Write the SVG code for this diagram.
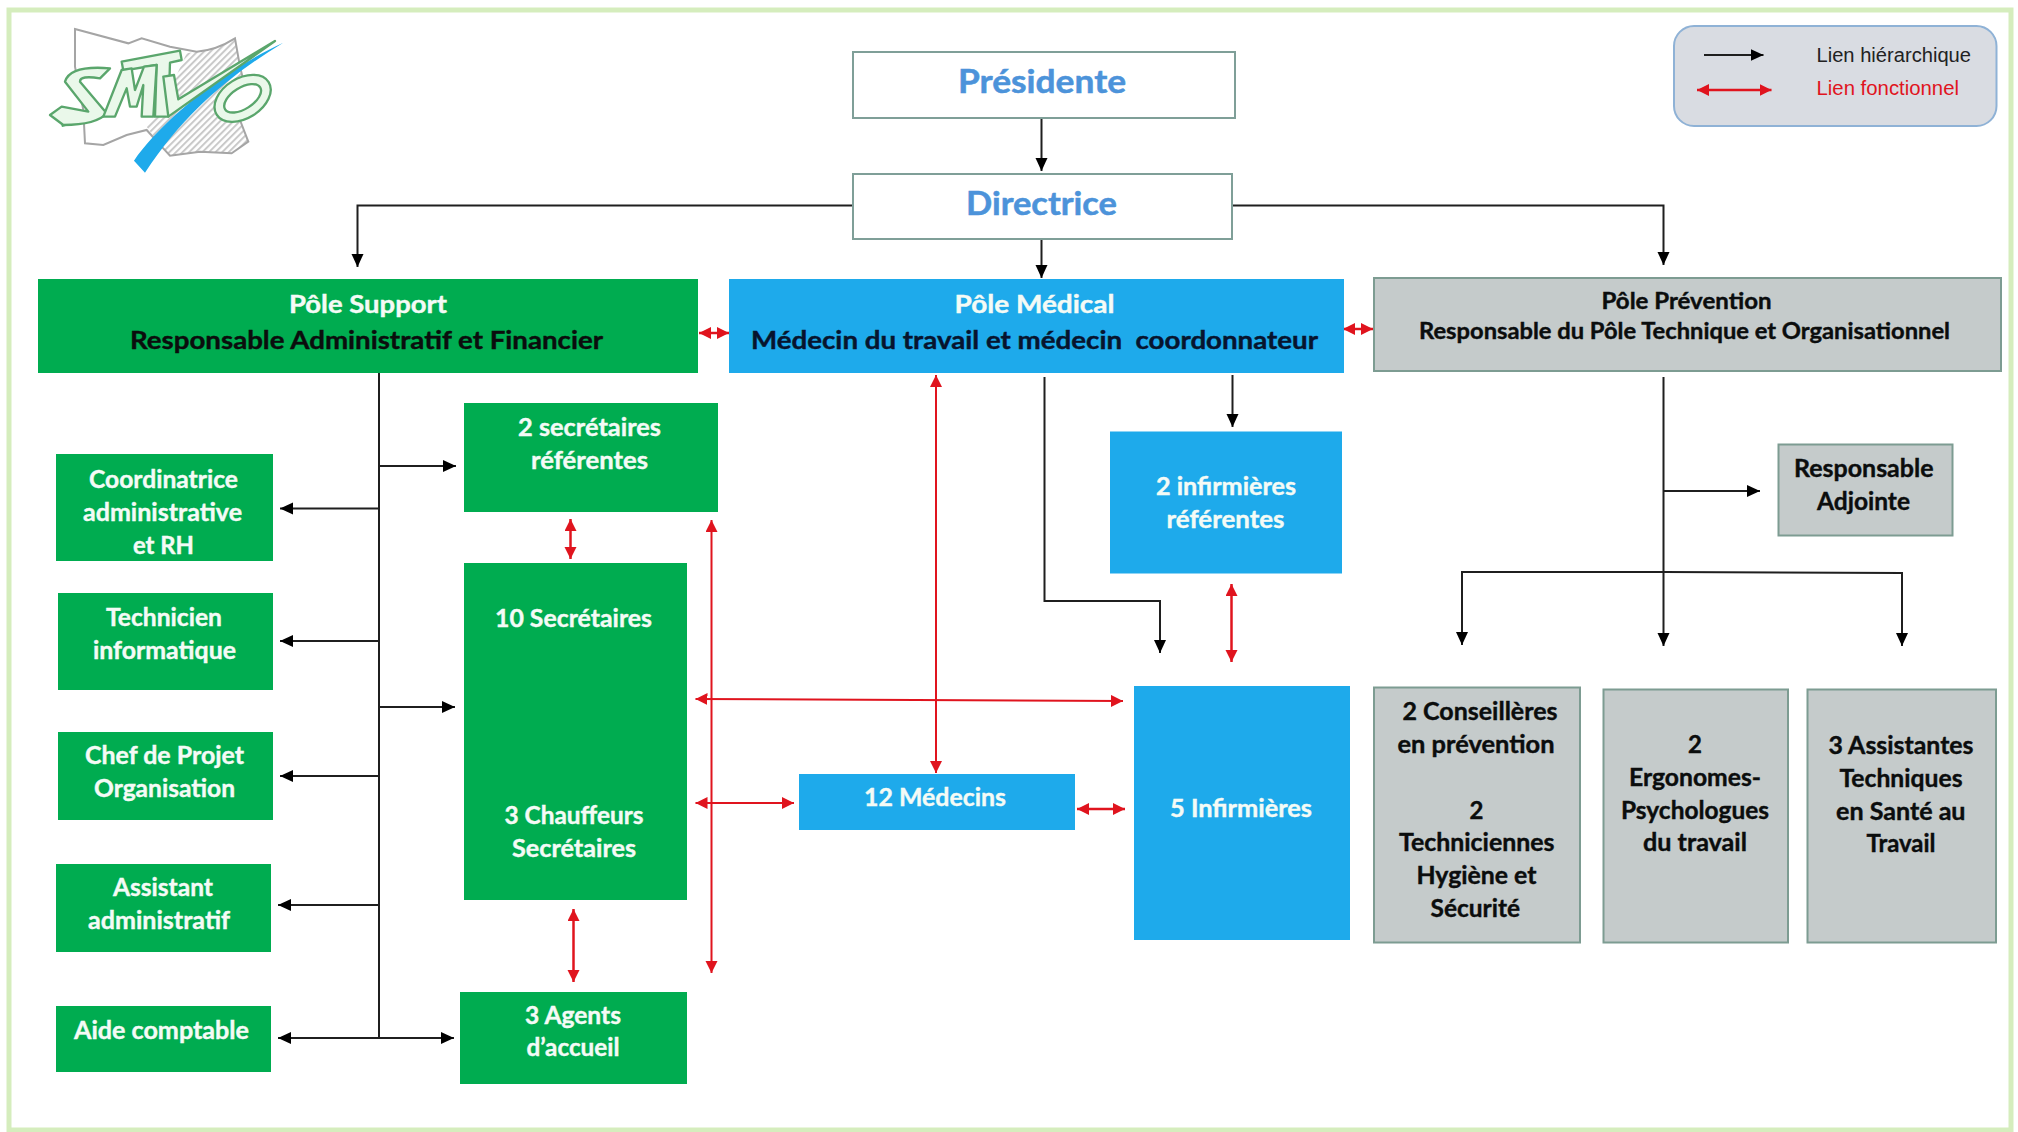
<svg xmlns="http://www.w3.org/2000/svg" width="2018" height="1132" viewBox="0 0 2018 1132">
<style>
text{font-family:"Lato","Carlito","Liberation Sans",sans-serif;font-weight:700}
.w{fill:#f4fbf6;stroke:#f4fbf6;stroke-width:.4;font-size:24px}
.k{fill:#0b0d0d;stroke:#0b0d0d;stroke-width:.4;font-size:24px}
.t{font-size:32px;fill:#4c93da;stroke:#4c93da;stroke-width:.5}
.gn{fill:#00ac50}.bl{fill:#1eaaeb}
.gy{fill:#c5cbcb;stroke:#7d9c92;stroke-width:2}
.wb{fill:#fff;stroke:#7f9f98;stroke-width:2}
.h{fill:none;stroke:#1f1f1f;stroke-width:2;marker-end:url(#ak)}
.l{fill:none;stroke:#1f1f1f;stroke-width:2}
.r{fill:none;stroke:#e0141e;stroke-width:2;marker-start:url(#ar);marker-end:url(#ar)}
.lg{font-family:"Liberation Sans",Arial,sans-serif;font-weight:400;font-size:20px}
.lt{fill:#eaf8ea;stroke:#5aa66c;stroke-width:7;stroke-linejoin:round}
</style>
<defs>
<marker id="ak" markerUnits="userSpaceOnUse" markerWidth="14" markerHeight="14" refX="13" refY="6.5" orient="auto"><path d="M0,0.5L13,6.5L0,12.5z" fill="#000"/></marker>
<marker id="ar" markerUnits="userSpaceOnUse" markerWidth="13" markerHeight="13" refX="12" refY="6" orient="auto-start-reverse"><path d="M0,0L12,6L0,12z" fill="#e0141e"/></marker>
<pattern id="hatch" patternUnits="userSpaceOnUse" width="14" height="14" patternTransform="rotate(45)"><rect width="14" height="14" fill="#fff"/><rect width="6" height="14" fill="#c9c9c9"/></pattern>
</defs>
<rect width="2018" height="1132" fill="#fff"/>
<rect x="9" y="10" width="2002" height="1120" fill="#fff" stroke="#d5edbd" stroke-width="5"/>

<g id="logo" transform="translate(0,10) scale(.3333)">
<path d="M560,130L590,125Q650,120 705,85L720,170L735,230L715,290L720,330L745,395L695,430L600,425L510,437L485,410L440,350L500,260z" fill="url(#hatch)"/>
<path d="M225,57L385,100L425,85L510,110L590,125Q650,120 705,85L720,170L735,230L715,290L720,330L745,395L695,430L600,425L510,437L485,410L440,360L380,375L310,405L255,400L250,300L225,170z" fill="none" stroke="#a5a5a5" stroke-width="6"/>
<path d="M402,452C470,350 650,190 850,98C700,190 560,300 435,488z" fill="#1eaaeb"/>
<ellipse cx="728" cy="265" rx="92" ry="60" transform="rotate(-32 728 265)" class="lt"/>
<ellipse cx="728" cy="265" rx="62" ry="32" transform="rotate(-32 728 265)" fill="#fff" stroke="#5aa66c" stroke-width="7"/>
<path d="M185,348L245,332" stroke="#45a860" stroke-width="7" fill="none"/>
<path class="lt" d="M150,315L185,290L265,305L195,215Q210,165 330,175L300,205Q240,195 240,215L320,310Q290,345 190,345z"/>
<path class="lt" d="M365,155L540,122L545,150L510,158L505,320L465,320L470,165L370,182z"/>
<path class="lt" d="M310,320L345,320L380,235L390,290L410,290L430,225L425,320L460,320L470,165L432,170L405,240L395,175L365,180z"/>
<path class="lt" d="M522,195L490,200L505,320L825,93L535,268z"/>
</g>

<g id="connectors">
<path class="h" d="M1041.500,118V171"/>
<path class="h" d="M1041.500,239V278"/>
<path class="h" d="M853,205.500H357.500V267"/>
<path class="h" d="M1232,205.500H1663.500V265"/>
<path class="l" d="M379,373V1038"/>
<path class="h" d="M379,466H456"/>
<path class="h" d="M379,508.500H280"/>
<path class="h" d="M379,641H280"/>
<path class="h" d="M379,707H455"/>
<path class="h" d="M379,776H280"/>
<path class="h" d="M379,905H278"/>
<path class="h" d="M379,1038H278"/>
<path class="h" d="M379,1038H454"/>
<path class="h" d="M1232.500,375V427"/>
<path class="h" d="M1044.500,377V601H1160V653"/>
<path class="h" d="M1663.500,377V646"/>
<path class="h" d="M1663.500,491H1760"/>
<path class="h" d="M1663.500,572H1462V645"/>
<path class="h" d="M1663.500,572L1902,573V646"/>
<path class="r" d="M699,333H729" style="stroke-width:2.500"/>
<path class="r" d="M1343,329H1373" style="stroke-width:2.500"/>
<path class="r" d="M570.500,519V559" style="stroke-width:2.500"/>
<path class="r" d="M573.500,909V982" style="stroke-width:2.500"/>
<path class="r" d="M711.500,520V973"/>
<path class="r" d="M936,375V773"/>
<path class="r" d="M695.500,699L1123,701"/>
<path class="r" d="M695.500,803H794"/>
<path class="r" d="M1077,809H1125" style="stroke-width:2.500"/>
<path class="r" d="M1231.500,584V662" style="stroke-width:2.500"/>
</g>

<g id="legend">
<rect x="1674" y="26" width="322.500" height="100" rx="20" fill="#d9dce2" stroke="#8fb2d6" stroke-width="2"/>
<path class="h" d="M1704,55H1763.500"/>
<path class="r" d="M1697,90H1771.500" style="stroke-width:2.500"/>
<text class="lg" x="1816.500" y="62" textLength="154.500" lengthAdjust="spacingAndGlyphs" fill="#222">Lien hiérarchique</text>
<text class="lg" x="1816.500" y="95" textLength="142.500" lengthAdjust="spacingAndGlyphs" fill="#e0141e">Lien fonctionnel</text>
</g>

<g id="presidente"><rect class="wb" x="853" y="52" width="382" height="66"/><text class="t" x="958" y="93" textLength="168" lengthAdjust="spacingAndGlyphs">Présidente</text></g>
<g id="directrice"><rect class="wb" x="853" y="174" width="379" height="65"/><text class="t" x="966" y="215" textLength="151" lengthAdjust="spacingAndGlyphs">Directrice</text></g>

<g id="pole-support"><rect class="gn" x="38" y="279" width="660" height="94"/>
<text class="w" x="289" y="313" textLength="158" lengthAdjust="spacingAndGlyphs">Pôle Support</text>
<text class="k" x="130" y="349" textLength="473" lengthAdjust="spacingAndGlyphs">Responsable Administratif et Financier</text></g>
<g id="pole-medical"><rect class="bl" x="729" y="279" width="615" height="94"/>
<text class="w" x="954.500" y="313" textLength="160" lengthAdjust="spacingAndGlyphs">Pôle Médical</text>
<text class="k" x="751" y="349" textLength="567" lengthAdjust="spacingAndGlyphs" style="fill:#07142e;stroke:#07142e;white-space:pre" xml:space="preserve">Médecin du travail et médecin  coordonnateur</text></g>
<g id="pole-prevention"><rect class="gy" x="1374" y="278" width="627" height="93"/>
<text class="k" x="1601.500" y="309" textLength="170" lengthAdjust="spacingAndGlyphs" style="font-size:22px">Pôle Prévention</text>
<text class="k" x="1419" y="339" textLength="531" lengthAdjust="spacingAndGlyphs" style="font-size:22px">Responsable du Pôle Technique et Organisationnel</text></g>

<g id="coordinatrice"><rect class="gn" x="56" y="454" width="217" height="107"/>
<text class="w" x="89" y="488" textLength="149" lengthAdjust="spacingAndGlyphs">Coordinatrice</text>
<text class="w" x="83" y="521" textLength="159" lengthAdjust="spacingAndGlyphs">administrative</text>
<text class="w" x="133" y="554" textLength="61" lengthAdjust="spacingAndGlyphs">et RH</text></g>
<g id="technicien"><rect class="gn" x="58" y="593" width="215" height="97"/>
<text class="w" x="106" y="626" textLength="116" lengthAdjust="spacingAndGlyphs">Technicien</text>
<text class="w" x="93" y="659" textLength="143" lengthAdjust="spacingAndGlyphs">informatique</text></g>
<g id="chef-projet"><rect class="gn" x="58" y="732" width="215" height="88"/>
<text class="w" x="85" y="764" textLength="159" lengthAdjust="spacingAndGlyphs">Chef de Projet</text>
<text class="w" x="94" y="797" textLength="141" lengthAdjust="spacingAndGlyphs">Organisation</text></g>
<g id="assistant"><rect class="gn" x="56" y="864" width="215" height="88"/>
<text class="w" x="113" y="896" textLength="100" lengthAdjust="spacingAndGlyphs">Assistant</text>
<text class="w" x="88" y="929" textLength="142" lengthAdjust="spacingAndGlyphs">administratif</text></g>
<g id="aide-comptable"><rect class="gn" x="56" y="1006" width="215" height="66"/>
<text class="w" x="74" y="1039" textLength="175" lengthAdjust="spacingAndGlyphs">Aide comptable</text></g>

<g id="secretaires-referentes"><rect class="gn" x="464" y="403" width="254" height="109"/>
<text class="w" x="518" y="436" textLength="143" lengthAdjust="spacingAndGlyphs">2 secrétaires</text>
<text class="w" x="531" y="469" textLength="117" lengthAdjust="spacingAndGlyphs">référentes</text></g>
<g id="secretaires"><rect class="gn" x="464" y="563" width="223" height="337"/>
<text class="w" x="495" y="627" textLength="157" lengthAdjust="spacingAndGlyphs">10 Secrétaires</text>
<text class="w" x="504.500" y="824" textLength="139" lengthAdjust="spacingAndGlyphs">3 Chauffeurs</text>
<text class="w" x="512" y="857" textLength="124" lengthAdjust="spacingAndGlyphs">Secrétaires</text></g>
<g id="agents"><rect class="gn" x="460" y="992" width="227" height="92"/>
<text class="w" x="525" y="1024" textLength="96" lengthAdjust="spacingAndGlyphs">3 Agents</text>
<text class="w" x="526.500" y="1056" textLength="93" lengthAdjust="spacingAndGlyphs">d’accueil</text></g>

<g id="medecins"><rect class="bl" x="799" y="774" width="276" height="56"/>
<text class="w" x="864" y="806" textLength="142" lengthAdjust="spacingAndGlyphs">12 Médecins</text></g>
<g id="infirmieres-referentes"><rect class="bl" x="1110" y="431.500" width="232" height="142"/>
<text class="w" x="1156" y="495" textLength="140" lengthAdjust="spacingAndGlyphs">2 infirmières</text>
<text class="w" x="1166.500" y="528" textLength="118" lengthAdjust="spacingAndGlyphs">référentes</text></g>
<g id="infirmieres"><rect class="bl" x="1134" y="686" width="216" height="254"/>
<text class="w" x="1170" y="817" textLength="142" lengthAdjust="spacingAndGlyphs">5 Infirmières</text></g>

<g id="responsable-adjointe"><rect class="gy" x="1778.500" y="444.500" width="174" height="91"/>
<text class="k" x="1794" y="477" textLength="139.500" lengthAdjust="spacingAndGlyphs">Responsable</text>
<text class="k" x="1817" y="510" textLength="93" lengthAdjust="spacingAndGlyphs">Adjointe</text></g>
<g id="conseilleres"><rect class="gy" x="1374" y="687.500" width="206" height="255"/>
<text class="k" x="1402.500" y="720" textLength="155" lengthAdjust="spacingAndGlyphs">2 Conseillères</text>
<text class="k" x="1397.500" y="753" textLength="157" lengthAdjust="spacingAndGlyphs">en prévention</text>
<text class="k" x="1469.500" y="819">2</text>
<text class="k" x="1399" y="851" textLength="155.500" lengthAdjust="spacingAndGlyphs">Techniciennes</text>
<text class="k" x="1416.500" y="884" textLength="120" lengthAdjust="spacingAndGlyphs">Hygiène et</text>
<text class="k" x="1430.500" y="917" textLength="89.500" lengthAdjust="spacingAndGlyphs">Sécurité</text></g>
<g id="ergonomes"><rect class="gy" x="1603.500" y="689.500" width="184.500" height="253"/>
<text class="k" x="1688" y="753">2</text>
<text class="k" x="1629" y="786" textLength="132" lengthAdjust="spacingAndGlyphs">Ergonomes-</text>
<text class="k" x="1621" y="819" textLength="148" lengthAdjust="spacingAndGlyphs">Psychologues</text>
<text class="k" x="1643" y="851" textLength="104" lengthAdjust="spacingAndGlyphs">du travail</text></g>
<g id="assistantes"><rect class="gy" x="1807.500" y="689.500" width="188.500" height="253"/>
<text class="k" x="1828.500" y="754" textLength="145" lengthAdjust="spacingAndGlyphs">3 Assistantes</text>
<text class="k" x="1839.500" y="787" textLength="123" lengthAdjust="spacingAndGlyphs">Techniques</text>
<text class="k" x="1836" y="820" textLength="129.500" lengthAdjust="spacingAndGlyphs">en Santé au</text>
<text class="k" x="1866.500" y="852" textLength="69" lengthAdjust="spacingAndGlyphs">Travail</text></g>
</svg>
